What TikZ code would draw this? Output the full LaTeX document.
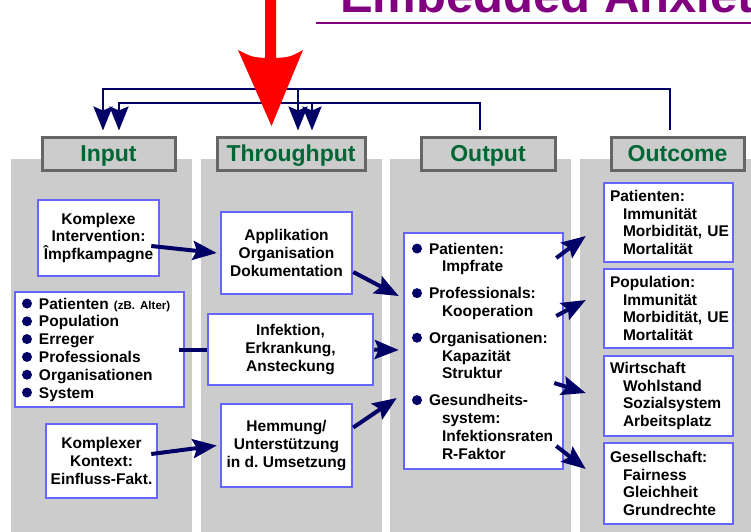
\documentclass[tikz,border=0pt]{standalone}
\usepackage{fontspec}
\setmainfont{Liberation Sans}
\usetikzlibrary{arrows.meta}

\definecolor{navy}{RGB}{0,0,102}
\definecolor{colgray}{RGB}{204,204,204}
\definecolor{hdrgray}{RGB}{102,102,102}
\definecolor{boxblue}{RGB}{102,102,255}
\definecolor{hdrgreen}{RGB}{0,102,51}
\definecolor{titlepurple}{RGB}{128,0,128}
\definecolor{signalred}{RGB}{255,0,0}

\hyphenpenalty=10000
\exhyphenpenalty=10000

% bullet dot and hanging indent used in the list boxes
\newcommand\bul{\makebox[17pt][l]{\tikz[baseline]\fill[navy] (5pt,5.5pt) circle (5pt);}}
\newcommand\subind{\hspace*{13pt}}
\newcommand\outind{\hspace*{30pt}}

\begin{document}
\begin{tikzpicture}[x=1pt,y=-1pt,
  font=\bfseries\fontsize{15.5}{17.8}\selectfont,
  hdr/.style={draw=hdrgray, line width=3pt, fill=colgray, text=hdrgreen,
    font=\bfseries\fontsize{23}{26}\selectfont, inner sep=0pt,
    minimum height=33pt, text depth=0pt},
  bbox/.style={draw=boxblue, line width=2.5pt, fill=white, inner sep=0pt, align=center},
  lbox/.style={draw=boxblue, line width=2.5pt, fill=white, inner ysep=0pt, align=left},
  tip/.style={-{Stealth[length=24pt,width=19pt,inset=4pt]}},
  conn/.style={draw=navy, line width=4pt, tip},
  link/.style={draw=navy, line width=4pt},
  fb/.style={draw=navy, line width=2.5pt, tip}]

\useasboundingbox (0,0) rectangle (751,531);
\fill[white] (0,0) rectangle (751,531);
\clip (0,0) rectangle (751,531);

% column backgrounds
\fill[colgray] (11,159) rectangle (192,540);
\fill[colgray] (201,159) rectangle (382,540);
\fill[colgray] (390,159) rectangle (571,540);
\fill[colgray] (580,159) rectangle (760,540);

% column headers
\node[hdr, minimum width=133pt] (hIn)   at (108.5,153.5) {Input};
\node[hdr, minimum width=148pt] (hThr)  at (291,153.5)   {Throughput};
\node[hdr, minimum width=134pt] (hOut)  at (488,153.5)   {Output};
\node[hdr, minimum width=133pt] (hOutc) at (677.5,153.5) {Outcome};

% feedback loops from Outcome and Output back to Input and Throughput
\coordinate (fbOuter) at (400,89);
\coordinate (fbInner) at (300,103);
\coordinate (thrA) at ([xshift=7pt]hThr.north);
\coordinate (thrB) at ([xshift=21pt]hThr.north);
\draw[fb] ([xshift=-7.5pt,yshift=6pt]hOutc.north) |- (fbOuter) -| ([xshift=-5.5pt,yshift=5pt]hIn.north);
\draw[fb] ([xshift=-8pt,yshift=6pt]hOut.north) |- (fbInner) -| ([xshift=10.5pt,yshift=5pt]hIn.north);
\draw[fb] (thrA |- fbOuter) -- ([yshift=5pt]thrA);
\draw[fb] (thrB |- fbInner) -- ([yshift=5pt]thrB);

% Input column
\node[bbox, minimum width=121pt, minimum height=76pt] (kint) at (98.5,238)
  {Komplexe\\Intervention:\\Împfkampagne};
\node[lbox, text width=155pt, inner xsep=7pt, minimum height=115pt] (lst) at (99.5,349.5)
  {\bul Patienten {\fontsize{11.5}{12}\selectfont (zB.~Alter)}\\
   \bul Population\\
   \bul Erreger\\
   \bul Professionals\\
   \bul Organisationen\\
   \bul System};
\node[bbox, minimum width=111pt, minimum height=74pt] (kkon) at (101.5,461)
  {Komplexer\\Kontext:\\Einfluss-Fakt.};

% Throughput column
\node[bbox, minimum width=131pt, minimum height=82pt] (appl) at (286.5,253)
  {Applikation\\Organisation\\Dokumentation};
\node[bbox, minimum width=165pt, minimum height=71pt] (infk) at (290.5,349.5)
  {Infektion,\\Erkrankung,\\Ansteckung};
\node[bbox, minimum width=131pt, minimum height=83pt] (hemm) at (286.5,445.5)
  {Hemmung/\\Unterstützung\\in d.~Umsetzung};

% Output column
\node[lbox, text width=143pt, inner xsep=8pt, minimum height=236pt] (out) at (483.5,351)
  {\bul Patienten:\\
   \outind Impfrate\\[9pt]
   \bul Professionals:\\
   \outind Kooperation\\[9pt]
   \bul Organisationen:\\
   \outind Kapazität\\
   \outind Struktur\\[9pt]
   \bul Gesundheits-\\
   \outind system:\\
   \outind Infektionsraten\\
   \outind R-Faktor};

% Outcome column
\node[lbox, text width=117pt, inner xsep=6pt, minimum height=79pt] (oc1) at (668.5,222.5)
  {Patienten:\\ \subind Immunität\\ \subind Morbidität,~UE\\ \subind Mortalität};
\node[lbox, text width=117pt, inner xsep=6pt, minimum height=79pt] (oc2) at (668.5,308.5)
  {Population:\\ \subind Immunität\\ \subind Morbidität,~UE\\ \subind Mortalität};
\node[lbox, text width=117pt, inner xsep=6pt, minimum height=80pt] (oc3) at (668.5,396)
  {Wirtschaft\\ \subind Wohlstand\\ \subind Sozialsystem\\ \subind Arbeitsplatz};
\node[lbox, text width=117pt, inner xsep=6pt, minimum height=81pt] (oc4) at (668.5,483.5)
  {Gesellschaft:\\ \subind Fairness\\ \subind Gleichheit\\ \subind Grundrechte};

% connectors
\draw[conn] ([xshift=-9pt,yshift=-8pt]kint.east) -- ([xshift=-3pt]appl.west);
\draw[link] ([xshift=-6pt]lst.east) -- (infk.west);
\draw[conn] ([xshift=-7pt,yshift=7pt]kkon.east) -- ([xshift=-3pt]hemm.west);
\draw[conn] ([yshift=-19pt]appl.east) -- ([xshift=-4pt,yshift=55pt]out.west);
\draw[conn] (infk.east) -- ([xshift=-4pt,yshift=1pt]out.west);
\draw[conn] ([yshift=18pt]hemm.east) -- ([xshift=-6pt,yshift=-47pt]out.west);
\draw[conn] ([xshift=-8pt,yshift=93pt]out.east) -- ([xshift=-17pt,yshift=-13.5pt]oc1.west);
\draw[conn] ([xshift=-8pt,yshift=35pt]out.east) -- ([xshift=-17pt,yshift=8.5pt]oc2.west);
\draw[conn] ([xshift=-10pt,yshift=-32pt]out.east) -- ([xshift=-17pt,yshift=3pt]oc3.west);
\draw[conn] ([xshift=-8pt,yshift=-95pt]out.east) -- ([xshift=-17pt,yshift=14.5pt]oc4.west);

% big red arrow from the top
\fill[signalred] (265,-5) -- (265,58) .. controls (252,57) .. (238,50)
  -- (271.5,126) -- (303,50) .. controls (290,57) .. (276,58) -- (276,-5) -- cycle;

% title and its rule
\node[anchor=base west, inner sep=0pt, text=titlepurple,
  font=\bfseries\fontsize{49}{51}\selectfont] (ttl) at (340,12) {Embedded Anxiet};
\draw[titlepurple, line width=2.5pt] (316,23) -- (760,23);
\end{tikzpicture}
\end{document}
